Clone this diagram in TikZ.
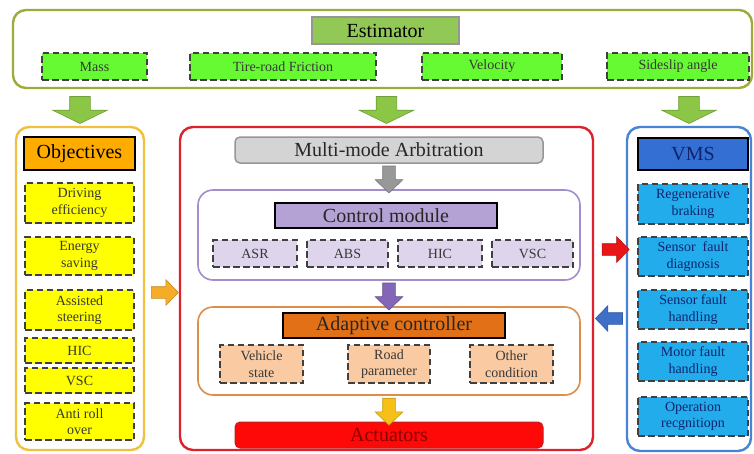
\documentclass[tikz,border=0pt]{standalone}
\usepackage{fontspec}
\setmainfont{Liberation Serif}
\usetikzlibrary{shapes.arrows,calc}

% palette
\definecolor{estline}{RGB}{158,170,60}
\definecolor{esttitle}{RGB}{146,200,86}
\definecolor{estitem}{RGB}{102,250,51}
\definecolor{greenarr}{RGB}{140,198,70}
\definecolor{objline}{RGB}{240,192,64}
\definecolor{objtitle}{RGB}{255,172,0}
\definecolor{objitem}{RGB}{255,255,0}
\definecolor{mainred}{RGB}{222,34,44}
\definecolor{mmfill}{RGB}{212,212,212}
\definecolor{mmline}{RGB}{150,150,150}
\definecolor{purline}{RGB}{162,142,204}
\definecolor{purtitle}{RGB}{180,162,212}
\definecolor{puritem}{RGB}{222,212,236}
\definecolor{purarr}{RGB}{132,102,184}
\definecolor{orline}{RGB}{222,142,72}
\definecolor{ortitle}{RGB}{226,112,22}
\definecolor{oritem}{RGB}{250,202,162}
\definecolor{actfill}{RGB}{255,8,8}
\definecolor{acttext}{RGB}{140,0,0}
\definecolor{vmsline}{RGB}{72,132,212}
\definecolor{vmstitle}{RGB}{52,112,212}
\definecolor{vmsitem}{RGB}{34,172,236}
\definecolor{vmstext}{RGB}{16,36,110}
\definecolor{dashgray}{RGB}{64,64,64}
\definecolor{labelgray}{RGB}{56,56,56}
\definecolor{orarr}{RGB}{246,172,40}
\definecolor{redarr}{RGB}{232,22,22}
\definecolor{bluearr}{RGB}{62,112,202}
\definecolor{grayarr}{RGB}{152,152,152}
\definecolor{yelarr}{RGB}{246,192,22}

\newcommand\ftitle{\fontsize{20}{24}\selectfont}
\newcommand\fitem{\fontsize{14}{16.5}\selectfont}

\begin{document}
\begin{tikzpicture}[x=1pt,y=-1pt,
  wh/.style 2 args={minimum width=#1, minimum height=#2},
  container/.style={draw, line width=2.4pt, rounded corners=13pt, inner sep=0},
  titlebox/.style={draw=black, line width=1.8pt, inner sep=0, font=\ftitle},
  item/.style={draw=dashgray, line width=1.3pt, dash pattern=on 6.5pt off 3.5pt,
    inner sep=0, align=center, font=\fitem, text=labelgray},
  % block arrows; the shaft is twice the inner sep across the pointing direction
  bigarrow/.style={single arrow, draw=#1!80!black, fill=#1, line width=0.6pt,
    inner xsep=10pt, inner ysep=0pt, minimum width=0pt, minimum height=27pt,
    single arrow head extend=17pt, single arrow tip angle=128,
    shape border rotate=270},
  downarrow/.style={single arrow, draw=#1!80!black, fill=#1, line width=0.6pt,
    inner xsep=6pt, inner ysep=0pt, minimum width=0pt, minimum height=27pt,
    single arrow head extend=7.5pt, single arrow tip angle=92,
    shape border rotate=270},
  sidearrow/.style={single arrow, draw=#1!80!black, fill=#1, line width=0.6pt,
    inner xsep=0pt, inner ysep=5.5pt, minimum width=0pt, minimum height=27pt,
    single arrow head extend=7pt, single arrow tip angle=92},
]
\useasboundingbox (0,0) rectangle (754,453);
\fill[white] (0,0) rectangle (754,453);

% ---------- estimator ----------
\node[container, draw=estline, wh={739}{78}] (est) at (382.5,49) {};
\node[draw=mmline, line width=1.2pt, fill=esttitle, inner sep=0, font=\ftitle,
  wh={147}{27}] (esttl) at (385.5,30.5) {Estimator};
\node[item, fill=estitem, wh={105}{27}] (mass) at (94.5,66.5) {Mass};
\node[item, fill=estitem, wh={186}{27}] (fric) at (283,66.5) {Tire-road Friction};
\node[item, fill=estitem, wh={140}{27}] (vel) at (492,66.5) {Velocity};
\node[item, fill=estitem, wh={142}{27}] (slip) at (678,66.5) {Sideslip angle};

% ---------- objectives ----------
\node[container, draw=objline, wh={128}{323}] (obj) at (80,288.5) {};
\node[titlebox, fill=objtitle, wh={111}{33}] (objtl) at (79.5,153.5) {Objectives};
\node[item, fill=objitem, wh={109}{40}] (o1) at (79.5,203) {Driving\\efficiency};
\node[item, fill=objitem, wh={109}{38}] (o2) at (79.5,256) {Energy\\saving};
\node[item, fill=objitem, wh={109}{40}] (o3) at (79.5,310) {Assisted\\steering};
\node[item, fill=objitem, wh={109}{25}] (o4) at (79.5,350.5) {HIC};
\node[item, fill=objitem, wh={109}{25}] (o5) at (79.5,380.5) {VSC};
\node[item, fill=objitem, wh={109}{37}] (o6) at (79.5,421.5) {Anti roll\\over};

% ---------- central control ----------
\node[container, draw=mainred, wh={413}{323}] (ctl) at (386.5,288.5) {};
\node[draw=mmline, line width=1.5pt, fill=mmfill, rounded corners=5pt, inner sep=0,
  font=\ftitle, text=black!85, wh={308}{26}] (mm) at (389,150) {Multi-mode Arbitration};

\node[container, draw=purline, line width=1.6pt, rounded corners=15pt, wh={382}{90}] (cm) at (389,235) {};
\node[titlebox, fill=purtitle, text=black!85, wh={222}{25}] (cmtl) at (386,215.5) {Control module};
\node[item, fill=puritem, wh={84}{27}] (asr) at (255,253.5) {ASR};
\node[item, fill=puritem, wh={81}{27}] (abs) at (347.5,253.5) {ABS};
\node[item, fill=puritem, wh={84}{27}] (hic) at (440,253.5) {HIC};
\node[item, fill=puritem, wh={81}{27}] (vsc) at (532.5,253.5) {VSC};

\node[container, draw=orline, line width=1.6pt, rounded corners=15pt, wh={382}{88}] (ac) at (389,351) {};
\node[titlebox, fill=ortitle, text=black!85, wh={222}{25}] (actl) at (394,325.5) {Adaptive controller};
\node[item, fill=oritem, wh={83}{38}] (vs) at (261.5,364) {Vehicle\\state};
\node[item, fill=oritem, wh={82}{38}] (rp) at (389,364) {Road\\parameter};
\node[item, fill=oritem, wh={83}{38}] (oc) at (511.5,364) {Other\\condition};

\node[draw=mainred!85!black, line width=1pt, fill=actfill, rounded corners=5pt, inner sep=0,
  font=\ftitle, text=acttext, wh={308}{26}] (act) at (389,435) {Actuators};

% ---------- VMS ----------
\node[container, draw=vmsline, wh={124}{324}] (vms) at (689,289) {};
\node[titlebox, fill=vmstitle, text=vmstext, wh={110}{32}] (vmstl) at (693,154) {VMS};
\node[item, fill=vmsitem, text=vmstext, wh={110}{40}] (v1) at (693,204) {Regenerative\\braking};
\node[item, fill=vmsitem, text=vmstext, wh={110}{39}] (v2) at (693,256.5) {Sensor\ \ fault\\diagnosis};
\node[item, fill=vmsitem, text=vmstext, wh={110}{39}] (v3) at (693,309.5) {Sensor fault\\handling};
\node[item, fill=vmsitem, text=vmstext, wh={110}{39}] (v4) at (693,361.5) {Motor fault\\handling};
\node[item, fill=vmsitem, text=vmstext, wh={110}{39}] (v5) at (693,416.5) {Operation\\recgnitiopn};

% ---------- block arrows ----------
\node[bigarrow=greenarr] (ga1) at ($(est.south -| obj.north)!0.5!(obj.north)$) {};
\node[bigarrow=greenarr] (ga2) at ($(est.south -| ctl.north)!0.5!(ctl.north)$) {};
\node[bigarrow=greenarr] (ga3) at ($(est.south -| vms.north)!0.5!(vms.north)$) {};

\node[downarrow=grayarr] (a1) at ($(mm.south)!0.5!(cm.north)$) {};
\node[downarrow=purarr] (a2) at ($(cm.south)!0.5!(ac.north)$) {};
\node[downarrow=yelarr] (a3) at ($(ac.south)!0.5!(act.north)$) {};

\node[sidearrow=orarr, yshift=-4pt] (a4) at ($(obj.east)!0.5!(ctl.west)$) {};
\node[sidearrow=redarr, xshift=-3pt, yshift=7pt] (a5)
  at ($(ctl.east |- v2.center)!0.5!(v2.west)$) {};
\node[sidearrow=bluearr, xshift=-4pt, yshift=-9pt, shape border rotate=180] (a6)
  at ($(ctl.east |- v3.center)!0.5!(v3.west)$) {};
\end{tikzpicture}
\end{document}
